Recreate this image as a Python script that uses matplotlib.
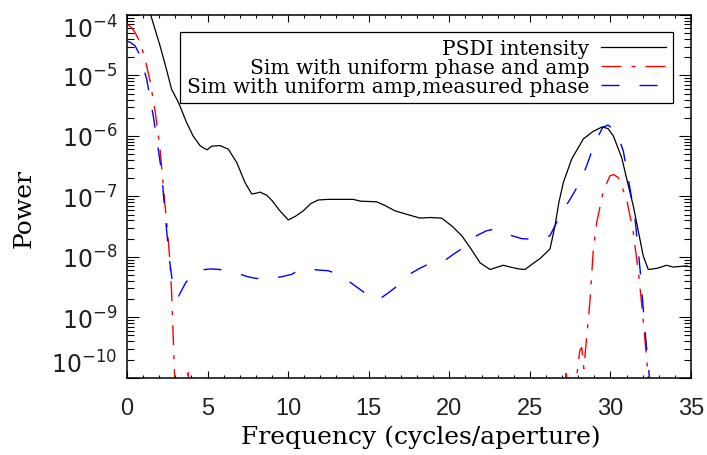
import numpy as np
import matplotlib
matplotlib.use("Agg")
import matplotlib.pyplot as plt
from matplotlib.ticker import FixedLocator, NullFormatter, LogLocator, MultipleLocator

# ---- data (x in cycles/aperture, y as log10 power) ----
psdi_x = [1.2, 1.47, 2.05, 2.4, 2.77, 3.2, 3.70, 4.1, 4.53, 4.75, 4.98, 5.25, 5.77, 6.29,
          6.81, 7.32, 7.74, 8.0, 8.25, 8.67, 9.0, 9.49, 10.01, 10.45, 10.94, 11.4, 11.87,
          12.5, 13.2, 14.04, 14.5, 15.49, 16.0, 16.63, 17.4, 18.18, 18.8, 19.53, 20.2,
          20.77, 21.3, 21.91, 22.53, 23.0, 23.35, 23.8, 24.3, 24.70, 25.2, 25.63, 26.25,
          26.56, 26.8, 27.08, 27.6, 28.32, 28.9, 29.5, 29.85, 30.18, 30.7, 31.0, 31.42,
          32.04, 32.35, 32.9, 33.49, 33.9, 34.32, 34.7, 35.0]
psdi_log = [-3.76, -4.0, -4.51, -4.85, -5.23, -5.45, -5.78, -6.0, -6.16, -6.2, -6.23, -6.17,
            -6.16, -6.22, -6.44, -6.77, -6.96, -6.95, -6.93, -6.98, -7.07, -7.24, -7.39,
            -7.33, -7.24, -7.12, -7.06, -7.05, -7.05, -7.05, -7.08, -7.09, -7.15, -7.24,
            -7.30, -7.36, -7.35, -7.36, -7.5, -7.65, -7.85, -8.1, -8.21, -8.17, -8.14,
            -8.17, -8.2, -8.21, -8.11, -8.03, -7.87, -7.49, -7.1, -6.77, -6.38, -6.05,
            -5.93, -5.85, -5.88, -6.0, -6.36, -6.7, -7.16, -7.99, -8.21, -8.19, -8.14,
            -8.17, -8.16, -8.15, -8.17]

unif_x = [0.0, 0.25, 0.5, 0.81, 1.1, 1.43, 1.75, 2.05, 2.36, 2.46, 2.67, 2.77, 2.94, 3.05,
          3.6, 3.8, 3.95, 27.0, 27.25, 27.5, 27.9, 28.1, 28.22, 28.35, 28.45, 28.74, 28.94,
          29.15, 29.56, 29.97, 30.2, 30.49, 31.01, 31.42, 31.8, 32.05, 32.25, 32.35, 32.45]
unif_log = [-4.15, -4.2, -4.29, -4.45, -4.7, -5.09, -5.6, -6.22, -7.15, -7.4, -8.09, -8.6,
            -9.86, -10.6, -10.5, -9.92, -10.5, -10.5, -9.93, -10.5, -10.0, -9.55, -9.5,
            -9.85, -9.55, -8.7, -7.87, -7.43, -6.91, -6.66, -6.64, -6.69, -7.05, -7.6,
            -8.4, -9.1, -9.7, -10.0, -10.5]

meas_x = [0.0, 0.25, 0.5, 0.81, 1.22, 1.63, 2.15, 2.36, 2.63, 2.77, 2.94, 3.2, 3.66, 4.1,
          4.53, 5.2, 5.77, 6.3, 6.81, 7.5, 8.05, 8.67, 9.08, 9.6, 10.22, 10.74, 11.25, 11.9,
          12.49, 13.0, 13.53, 14.1, 14.67, 15.18, 15.66, 16.2, 16.74, 17.46, 18.1, 18.70,
          19.78, 20.3, 20.87, 21.70, 22.3, 22.84, 23.35, 23.87, 24.5, 25.21, 25.7, 26.25,
          26.87, 27.49, 28.11, 28.53, 29.04, 29.52, 29.85, 30.39, 30.80, 31.22, 31.53,
          31.84, 32.04, 32.25, 32.42, 32.5]
meas_log = [-4.43, -4.46, -4.51, -4.67, -5.06, -5.67, -6.6, -7.29, -8.04, -8.32, -8.62, -8.65,
            -8.42, -8.3, -8.22, -8.2, -8.21, -8.25, -8.27, -8.33, -8.36, -8.33, -8.35, -8.33,
            -8.29, -8.21, -8.2, -8.22, -8.23, -8.28, -8.36, -8.47, -8.58, -8.69, -8.70, -8.6,
            -8.49, -8.30, -8.2, -8.12, -8.05, -7.95, -7.85, -7.65, -7.57, -7.54, -7.57, -7.65,
            -7.7, -7.71, -7.7, -7.65, -7.32, -7.05, -6.77, -6.49, -6.11, -5.86, -5.82, -5.94,
            -6.25, -6.88, -7.38, -8.21, -8.87, -9.53, -10.0, -10.5]

labels = ["PSDI intensity", "Sim with uniform phase and amp",
          "Sim with uniform amp,measured phase"]
xticks = [0, 5, 10, 15, 20, 25, 30, 35]
ydecades = [-10, -9, -8, -7, -6, -5, -4]

plt.rcParams['lines.scale_dashes'] = False
plt.rcParams['mathtext.fontset'] = 'custom'
plt.rcParams['mathtext.rm'] = 'Liberation Sans'
plt.rcParams['mathtext.it'] = 'Liberation Sans:italic'
plt.rcParams['mathtext.bf'] = 'Liberation Sans:bold'

fig = plt.figure(figsize=(7.07, 4.56), dpi=100)
ax = fig.add_axes([127/707, 1-378.7/456, 564/707, 362.7/456])

ax.plot(psdi_x, 10.0**np.array(psdi_log), color='black', lw=0.9, label=labels[0])
ax.plot(unif_x, 10.0**np.array(unif_log), color='#ff0000', lw=1.0,
        dashes=(14.4, 7.2, 2.9, 7.2), label=labels[1])
ax.plot(meas_x, 10.0**np.array(meas_log), color='#0000ff', lw=1.0,
        dashes=(13, 14.4), label=labels[2])

ax.set_yscale('log')
ax.set_xlim(0, 35)
ax.set_ylim(1e-10, 1e-4)

ax.xaxis.set_major_locator(FixedLocator(xticks))
ax.xaxis.set_minor_locator(MultipleLocator(1))
ax.set_xticklabels([str(t) for t in xticks], family='Liberation Sans', fontsize=17,
                   color='#222222')
ax.yaxis.set_major_locator(FixedLocator([10.0**d for d in ydecades]))
ax.yaxis.set_minor_locator(LogLocator(base=10, subs=np.arange(2, 10)))
ax.yaxis.set_minor_formatter(NullFormatter())
ax.set_yticklabels([r'$\mathregular{10^{%d}}$' % d for d in ydecades], fontsize=17,
                   color='#222222')

ax.tick_params(axis='both', which='both', direction='in', top=True, right=True,
               width=0.8, color='black')
ax.tick_params(axis='x', which='major', length=5, pad=14)
ax.tick_params(axis='x', which='minor', length=2.5)
ax.tick_params(axis='y', which='major', length=8.6, pad=7)
ax.tick_params(axis='y', which='minor', length=5)
for s in ax.spines.values():
    s.set_linewidth(1.1)

ylabs = ax.get_yticklabels()
ylabs[-1].set_va('top')
ylabs[0].set_va('bottom')

ax.set_xlabel('Frequency (cycles/aperture)', family='DejaVu Serif', fontsize=18)
ax.xaxis.set_label_coords(0.521, -0.13)
ax.set_ylabel('Power', family='DejaVu Serif', fontsize=18)
ax.yaxis.set_label_coords(-0.162, 0.47)

leg = ax.legend(loc='upper right', bbox_to_anchor=(0.968, 0.953), borderaxespad=0,
                markerfirst=False, fancybox=False, framealpha=1, edgecolor='black',
                prop={'family': 'DejaVu Serif', 'size': 14.5}, handlelength=3.2,
                handletextpad=0.6, borderpad=0.35, labelspacing=0.0)
leg.get_frame().set_linewidth(0.9)

fig.savefig('out.png', dpi=100)
